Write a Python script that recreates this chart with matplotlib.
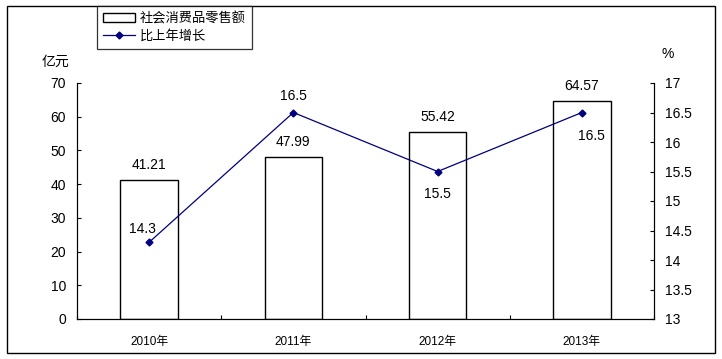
import matplotlib.pyplot as plt
from matplotlib.patches import Rectangle
import numpy as np

plt.rcParams['font.family'] = ['Liberation Sans', 'Noto Sans CJK SC']

years = ['2010年', '2011年', '2012年', '2013年']
sales = [41.21, 47.99, 55.42, 64.57]
growth = [14.3, 16.5, 15.5, 16.5]
growth_offsets = [(-7, 13), (0, 17), (0, -23), (10, -24)]  # label offsets in pixels

fig = plt.figure(figsize=(7.22, 3.59), dpi=100)
ax = fig.add_axes([77/722, 1-319/359, (654-77)/722, (319-83)/359])
ax2 = ax.twinx()

x = np.arange(len(years))
ax.bar(x, sales, width=0.40, color='white', edgecolor='black', linewidth=1.0,
       label='社会消费品零售额', zorder=2)
for xi, v in zip(x, sales):
    ax.annotate('%.2f' % v, (xi, v), xytext=(0, 11), textcoords='offset points',
                ha='center', va='center', fontsize=10)

ax.set_xlim(-0.5, len(years) - 0.5)
ax.set_ylim(0, 70)
ax.set_yticks(range(0, 71, 10))
ax.set_xticks(np.arange(-0.5, len(years), 1.0))
ax.set_xticklabels([])
ax.set_xticks(x, minor=True)
ax.set_xticklabels(years, minor=True, fontsize=8.5)
ax.tick_params(axis='x', which='major', direction='in', length=3, width=0.8)
ax.tick_params(axis='x', which='minor', length=0, pad=12)
ax.tick_params(axis='y', direction='in', length=3, width=0.8, labelsize=10, pad=8)
ax.spines['top'].set_visible(False)

ax2.plot(x, growth, color='#000080', marker='D', markersize=3.5, linewidth=0.9,
         label='比上年增长', zorder=3)
for xi, v, off in zip(x, growth, growth_offsets):
    ax2.annotate('%.1f' % v, (xi, v), xytext=(off[0]*0.72, off[1]*0.72),
                 textcoords='offset points', ha='center', va='center', fontsize=10)
ax2.set_ylim(13, 17)
ax2.set_yticks(np.arange(13, 17.01, 0.5))
ax2.set_yticklabels(['13', '13.5', '14', '14.5', '15', '15.5', '16', '16.5', '17'])
ax2.tick_params(axis='y', direction='in', length=3, width=0.8, labelsize=10, pad=8)
ax2.spines['top'].set_visible(False)

fig.text(55/722, 1-62/359, '亿元', fontsize=10, ha='center', va='center')
fig.text(668/722, 1-54/359, '%', fontsize=10, ha='center', va='center')

# legend
h1, l1 = ax.get_legend_handles_labels()
h2, l2 = ax2.get_legend_handles_labels()
leg = fig.legend(h1 + h2, l1 + l2, loc='upper left',
                 bbox_to_anchor=(97/722, 1-6/359), fontsize=9.5, frameon=True,
                 fancybox=False, borderpad=0.45, handlelength=2.4, handleheight=0.6,
                 labelspacing=0.35, handletextpad=0.4, borderaxespad=0)
leg.get_frame().set_edgecolor('black')
leg.get_frame().set_linewidth(0.9)

# outer frame
fig.patches.append(Rectangle((7/722, 1-353/359), (715-7)/722, (353-6)/359,
                             transform=fig.transFigure, fill=False,
                             edgecolor='black', linewidth=1.0))

fig.savefig('out.png', dpi=100)
